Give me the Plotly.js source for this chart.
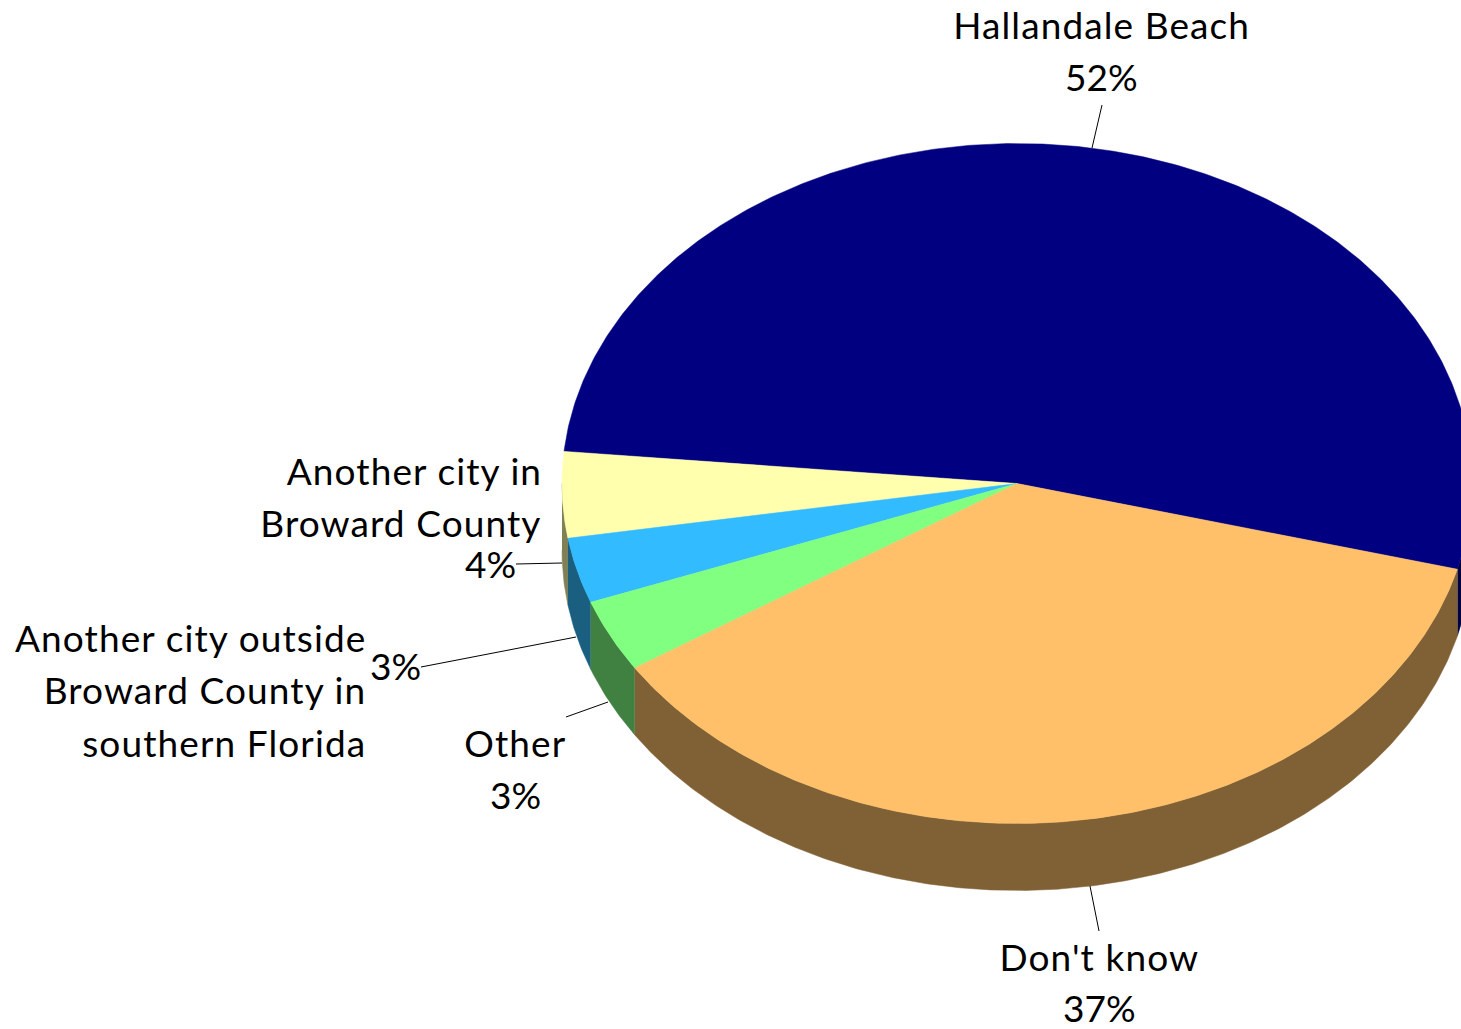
<!DOCTYPE html>
<html>
<head>
<meta charset="utf-8">
<script src="https://cdn.plot.ly/plotly-3.0.1.min.js"></script>
<style>
html,body{margin:0;padding:0;background:#fff;overflow:hidden}
#chart{width:1461px;height:1029px}
.annotation .annotation-text{letter-spacing:1.1px}
.annotation[data-index="1"] .annotation-text,
.annotation[data-index="4"] .annotation-text,
.annotation[data-index="8"] .annotation-text,
.annotation[data-index="10"] .annotation-text,
.annotation[data-index="12"] .annotation-text{letter-spacing:0}
</style>
</head>
<body>
<div id="chart"></div>
<script>
// Data (share of the circle, then printed labels)
const categories = ["Hallandale Beach", "Another city in Broward County", "Another city outside Broward County in southern Florida", "Other", "Don't know"];
const shares = [52.55, 4.08, 3.11, 3.44, 36.82];
const printedPct = ["52%", "4%", "3%", "3%", "37%"];
const topColors = ["#000080", "#FFFFAD", "#33BBFF", "#80FF80", "#FFC069"];
const sideColors = ["#000040", "#808057", "#1A5F80", "#408040", "#806035"];

// Pie geometry in page pixels
const cx = 1017, cy = 483.5, rx = 455, ry = 340, depth = 67, startAngle = -14.6;
const FONT = {family: "Lato, Carlito, Calibri, sans-serif", size: 37, color: "#000"};

const px = t => cx + rx * Math.cos(t * Math.PI / 180);
const py = (t, d) => cy - ry * Math.sin(t * Math.PI / 180) + d;
function arc(a, b) {
  const out = [], n = Math.max(2, Math.ceil(Math.abs(b - a) * 2));
  for (let i = 0; i <= n; i++) out.push(a + (b - a) * i / n);
  return out;
}

const spans = [];
let acc = startAngle;
shares.forEach(s => { spans.push([acc, acc + s * 3.6]); acc += s * 3.6; });

const sideTraces = [], topTraces = [];
spans.forEach(([a, b], i) => {
  // visible front wall: lower half of the ellipse (t in 180..360, i.e. -180..0)
  [[a, b], [a - 360, b - 360]].forEach(([p, q]) => {
    const lo = Math.max(p, -180), hi = Math.min(q, 0);
    if (hi > lo) {
      const ts = arc(lo, hi), back = ts.slice().reverse();
      sideTraces.push({
        type: "scatter", mode: "lines", fill: "toself", fillcolor: sideColors[i],
        line: {color: sideColors[i], width: 0.5}, hoverinfo: "skip", showlegend: false,
        x: ts.map(px).concat(back.map(px)),
        y: ts.map(t => py(t, 0)).concat(back.map(t => py(t, depth)))
      });
    }
  });
  const ts = arc(a, b);
  topTraces.push({
    type: "scatter", mode: "lines", fill: "toself", fillcolor: topColors[i],
    line: {color: topColors[i], width: 0.5}, hoverinfo: "skip", showlegend: false,
    name: categories[i],
    x: [cx].concat(ts.map(px), [cx]),
    y: [cy].concat(ts.map(t => py(t, 0)), [cy])
  });
});

const label = (text, x, y, xanchor) => ({
  text, x, y, xref: "x", yref: "y", xanchor, yanchor: "middle",
  showarrow: false, font: FONT, borderpad: 0, borderwidth: 0
});
const annotations = [
  label("Hallandale Beach", 1101, 24.5, "center"),
  label(printedPct[0], 1101, 76.5, "center"),
  label("Another city in", 534, 470.5, "right"),
  label("Broward County", 534, 522.5, "right"),
  label(printedPct[1], 516, 563.5, "right"),
  label("Another city outside", 355, 637.5, "right"),
  label("Broward County in", 357, 689.5, "right"),
  label("southern Florida", 357, 742.5, "right"),
  label(printedPct[2], 421, 665.5, "right"),
  label(categories[3], 515, 742.5, "center"),
  label(printedPct[3], 515, 794.5, "center"),
  label(categories[4], 1099, 956.5, "center"),
  label(printedPct[4], 1099, 1007, "center")
];

const leader = (x0, y0, x1, y1) => ({
  type: "line", xref: "x", yref: "y", x0, y0, x1, y1,
  line: {color: "#000", width: 1}, layer: "above"
});
const shapes = [
  leader(1102, 105, 1092, 148),
  leader(1090, 886, 1099, 931),
  leader(516, 564, 562, 563),
  leader(421, 667, 576, 637),
  leader(566, 717, 608, 702)
];

Plotly.newPlot("chart", sideTraces.concat(topTraces), {
  width: 1461, height: 1029,
  margin: {l: 0, r: 0, t: 0, b: 0, pad: 0},
  paper_bgcolor: "#fff", plot_bgcolor: "#fff", showlegend: false,
  xaxis: {range: [0, 1461], visible: false, fixedrange: true},
  yaxis: {range: [1029, 0], visible: false, fixedrange: true},
  annotations, shapes
}, {displayModeBar: false, staticPlot: true});
</script>
</body>
</html>
